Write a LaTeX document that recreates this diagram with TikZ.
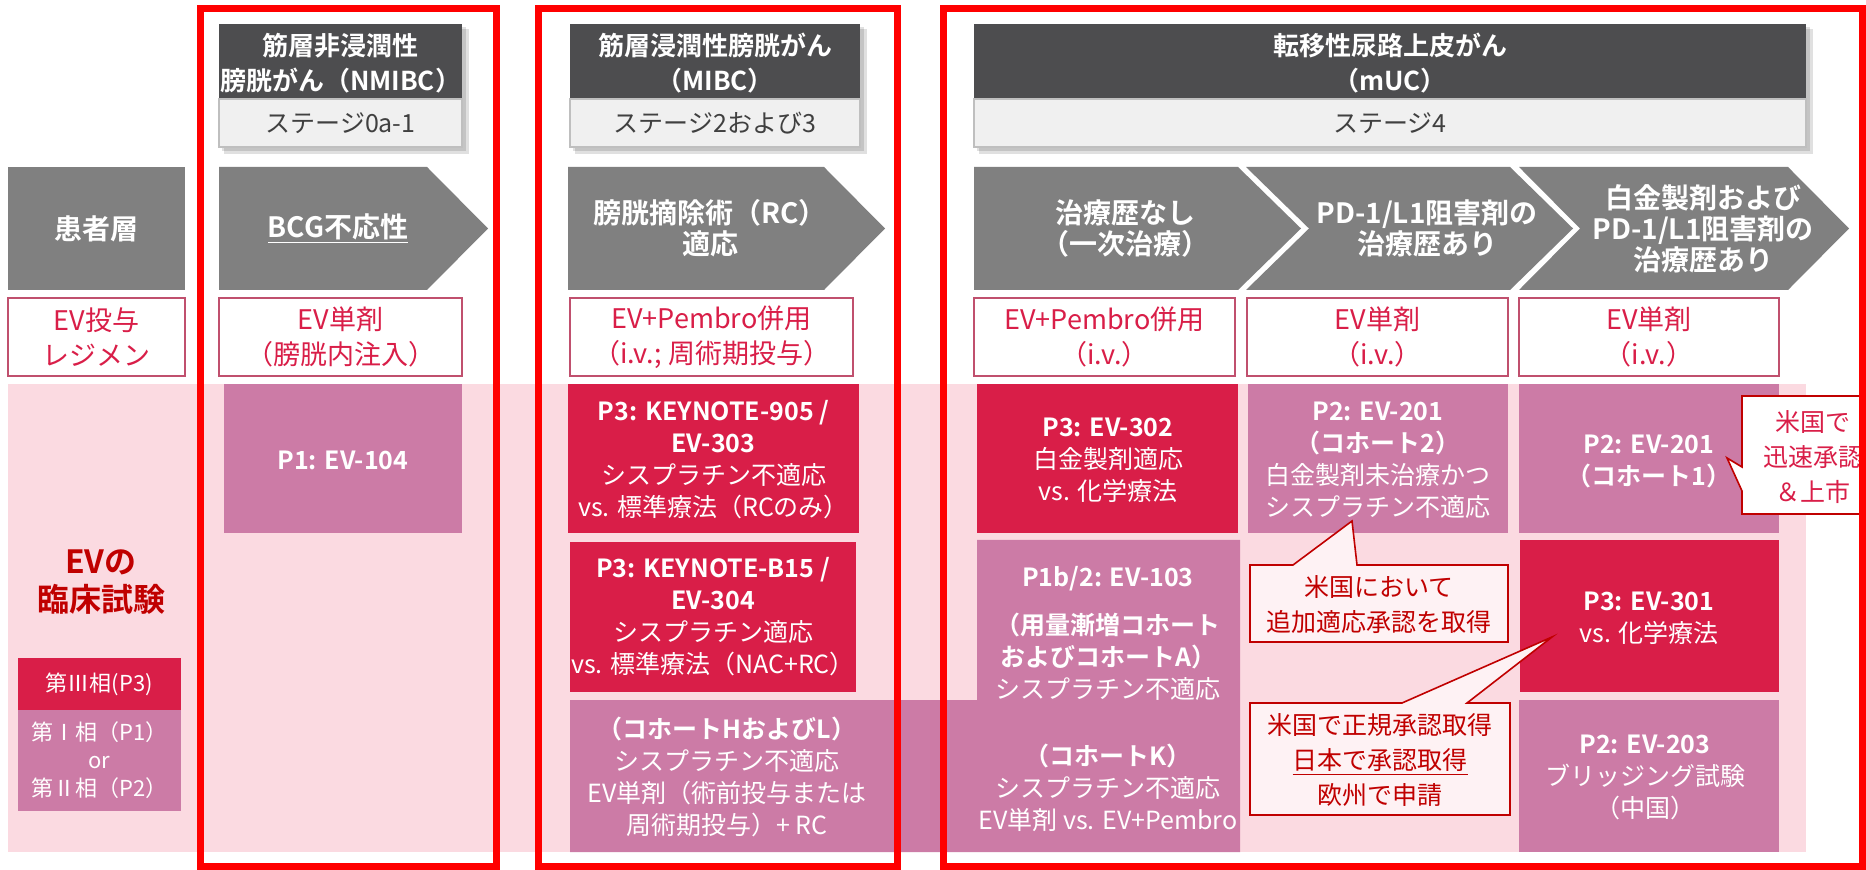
\documentclass[tikz,border=0pt]{standalone}
\usepackage{fontspec}
\setmainfont{Noto Sans CJK JP}[BoldFont={Noto Sans CJK JP Bold}]
\definecolor{hdrgray}{RGB}{77,77,79}
\definecolor{stagegray}{RGB}{240,240,240}
\definecolor{stageline}{RGB}{191,191,191}
\definecolor{arrowgray}{RGB}{128,128,128}
\definecolor{evred}{RGB}{217,30,72}
\definecolor{evmauve}{RGB}{204,123,166}
\definecolor{trialpink}{RGB}{251,218,225}
\definecolor{darkred}{RGB}{192,0,0}
\definecolor{notefill}{RGB}{254,242,244}
\definecolor{regline}{RGB}{192,80,110}
\definecolor{framered}{RGB}{255,0,0}

\begin{document}
\begin{tikzpicture}[x=0.5pt,y=-0.5pt,
  every node/.style={align=center, inner sep=0pt},
  redframe/.style={draw=framered, line width=3.5pt},
  shadowbox/.style={fill=black, opacity=0.12},
  stagebox/.style={fill=stagegray, draw=stageline, line width=1pt},
  regbox/.style={fill=white, draw=regline, line width=0.8pt},
  notebox/.style={fill=notefill, draw=darkred, line width=0.8pt},
  hdrtext/.style={text=white, font=\fontsize{13}{17.5}\selectfont\bfseries},
  stagetext/.style={text=black!75, font=\fontsize{12.5}{16}\selectfont},
  pattext/.style={text=white, font=\fontsize{14}{15.5}\selectfont\bfseries},
  regtext/.style={text=evred, font=\fontsize{13.5}{17.5}\selectfont},
  trialtext/.style={text=white, font=\fontsize{12.5}{16}\selectfont},
  legtext/.style={text=white, font=\fontsize{11}{14}\selectfont},
  notetext/.style={text=darkred, font=\fontsize{12.5}{17.5}\selectfont}]
\useasboundingbox (0,0) rectangle (1866,870);
\fill [white] (0,0) rectangle (1866,870);

% disease headers with stage boxes
\foreach \xa/\xb in {219/462, 570/860, 974/1806} {
  \fill [shadowbox] (\xa+3,27) rectangle (\xb+4,151);
  \fill [shadowbox] (\xa+5,29) rectangle (\xb+7,154);
  \fill [hdrgray] (\xa,24) rectangle (\xb,99);
  \draw [stagebox] (\xa,99) rectangle (\xb,147);
}
\node [hdrtext] (hdrNMIBC) at (340.5,63) {筋層非浸潤性\\膀胱がん（NMIBC）};
\node [hdrtext] (hdrMIBC) at (715,63) {筋層浸潤性膀胱がん\\（MIBC）};
\node [hdrtext] (hdrMUC) at (1390,63) {転移性尿路上皮がん\\（mUC）};
\node [stagetext] (stgNMIBC) at (340.5,123) {ステージ0a-1};
\node [stagetext] (stgMIBC) at (715,123) {ステージ2および3};
\node [stagetext] (stgMUC) at (1390,123) {ステージ4};

% patient row
\fill [arrowgray] (8,167) rectangle (185,290);
\fill [arrowgray] (219,167) -- (427,167) -- (488,228.5) -- (427,290) -- (219,290) -- cycle;
\fill [arrowgray] (568,167) -- (824,167) -- (885,228.5) -- (824,290) -- (568,290) -- cycle;
\fill [arrowgray] (974,167) -- (1238,167) -- (1301,228.5) -- (1238,290) -- (974,290) -- cycle;
\fill [arrowgray] (1246,167) -- (1510,167) -- (1573,228.5) -- (1510,290) -- (1246,290) -- (1309,228.5) -- cycle;
\fill [arrowgray] (1519,167) -- (1788,167) -- (1849,228.5) -- (1788,290) -- (1519,290) -- (1580,228.5) -- cycle;
\node [pattext] (pat) at (96.5,228.5) {患者層};
\node [pattext] (bcg) at (338,228.5) {\underline{BCG不応性}};
\node [pattext] (rc) at (710,228.5) {膀胱摘除術（RC）\\適応};
\node [pattext] (first) at (1125,228.5) {治療歴なし\\（一次治療）};
\node [pattext] (second) at (1427,228.5) {PD-1/L1阻害剤の\\治療歴あり};
\node [pattext] (third) at (1703,228.5) {白金製剤および\\PD-1/L1阻害剤の\\治療歴あり};

% regimen row
\draw [regbox] (8,298) rectangle (185,376);
\draw [regbox] (219,298) rectangle (462,376);
\draw [regbox] (570,298) rectangle (853,376);
\draw [regbox] (974,298) rectangle (1235,376);
\draw [regbox] (1247,298) rectangle (1508,376);
\draw [regbox] (1519,298) rectangle (1779,376);
\node [regtext] (reg) at (96.5,337) {EV投与\\レジメン};
\node [regtext] (regNMIBC) at (340.5,337) {EV単剤\\（膀胱内注入）};
\node [regtext] (regMIBC) at (711.5,337) {EV+Pembro併用\\（i.v.; 周術期投与）};
\node [regtext] (regFirst) at (1104.5,337) {EV+Pembro併用\\（i.v.）};
\node [regtext] (regSecond) at (1377.5,337) {EV単剤\\（i.v.）};
\node [regtext] (regThird) at (1649,337) {EV単剤\\（i.v.）};

% clinical trials
\fill [trialpink] (8,384) rectangle (1806,852);
\fill [evmauve] (224,384) rectangle (462,533);
\fill [evred] (568,384) rectangle (859,533);
\fill [evred] (570,542) rectangle (856,692);
\fill [evmauve] (570,700) -- (977,700) -- (977,540) -- (1240,540) -- (1240,852) -- (570,852) -- cycle;
\fill [evred] (977,384) rectangle (1238,533);
\fill [evmauve] (1248,384) rectangle (1508,533);
\fill [evmauve] (1519,384) rectangle (1779,533);
\fill [evred] (1520,540) rectangle (1779,692);
\fill [evmauve] (1519,700) rectangle (1779,852);
\fill [evred] (18,658) rectangle (181,710);
\fill [evmauve] (18,710) rectangle (181,811);

\node [text=darkred, font=\fontsize{16}{19}\selectfont\bfseries] (evtrial) at (101,582) {EVの\\臨床試験};
\node [legtext] (legP3) at (99.5,684) {第Ⅲ相(P3)};
\node [legtext] (legP12) at (99.5,760) {第Ⅰ相（P1）\\or\\第Ⅱ相（P2）};

\node [trialtext] (ev104) at (343,460) {\textbf{P1: EV-104}};
\node [trialtext] (kn905) at (713.5,460) {\textbf{P3: KEYNOTE-905 /}\\\textbf{EV-303}\\シスプラチン不適応\\vs. 標準療法（RCのみ）};
\node [trialtext] (knb15) at (713,617) {\textbf{P3: KEYNOTE-B15 /}\\\textbf{EV-304}\\シスプラチン適応\\vs. 標準療法（NAC+RC）};
\node [trialtext] (cohHL) at (727,777) {\textbf{（コホートHおよびL）}\\シスプラチン不適応\\EV単剤（術前投与または\\周術期投与）+ RC};
\node [trialtext] (ev302) at (1108,460) {\textbf{P3: EV-302}\\白金製剤適応\\vs. 化学療法};
\node [trialtext] (ev201b) at (1378,460) {\textbf{P2: EV-201}\\\textbf{（コホート2）}\\白金製剤未治療かつ\\シスプラチン不適応};
\node [trialtext] (ev201a) at (1649,461) {\textbf{P2: EV-201}\\\textbf{（コホート1）}};
\node [trialtext] (ev103) at (1108,633) {\textbf{P1b/2: EV-103}\\[8pt]\textbf{（用量漸増コホート}\\\textbf{およびコホートA）}\\シスプラチン不適応};
\node [trialtext] (ev103k) at (1108,788) {\textbf{（コホートK）}\\シスプラチン不適応\\EV単剤 vs. EV+Pembro};
\node [trialtext] (ev301) at (1649,618) {\textbf{P3: EV-301}\\vs. 化学療法};
\node [trialtext] (ev203) at (1645,777) {\textbf{P2: EV-203}\\ブリッジング試験\\（中国）};

% approval call-outs
\draw [notebox] (1250,565) -- (1293,565) -- (1352,521) -- (1357,565) -- (1508,565) -- (1508,642) -- (1250,642) -- cycle;
\draw [notebox] (1250,703) -- (1402,703) -- (1552,637) -- (1467,703) -- (1510,703) -- (1510,815) -- (1250,815) -- cycle;
\draw [notebox, fill=white] (1742,396) -- (1890,396) -- (1890,514) -- (1742,514) -- (1742,491) -- (1727,458) -- (1742,467) -- cycle;
\node [notetext] (note1) at (1379,605) {米国において\\追加適応承認を取得};
\node [notetext] (note2) at (1380,760) {米国で正規承認取得\\\underline{日本で承認取得}\\欧州で申請};
\node [notetext, text=evred] (note3) at (1813,457) {米国で\\迅速承認\\＆上市};

% stage frames
\draw [redframe] (200,8.5) rectangle (496,866);
\draw [redframe] (538,8.5) rectangle (897,866);
\draw [redframe] (943,8.5) rectangle (1862,866);
\end{tikzpicture}
\end{document}
